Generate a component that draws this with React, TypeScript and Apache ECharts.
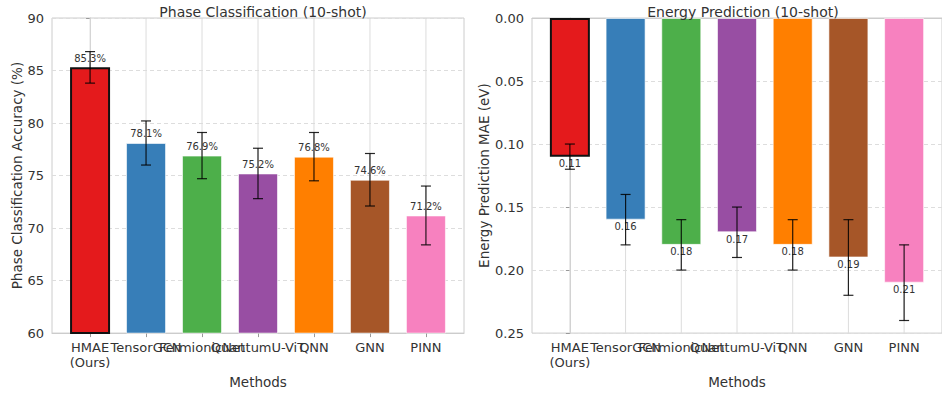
import React, { useEffect, useRef } from "react";
import * as echarts from "echarts";

const methods = ["HMAE\n(Ours)", "TensorGCN", "FermionicNet", "QuantumU-ViT", "QNN", "GNN", "PINN"];
const colors = ["#e41a1c", "#377eb8", "#4daf4a", "#984ea3", "#ff7f00", "#a65628", "#f781bf"];
const phaseAcc = [85.3, 78.1, 76.9, 75.2, 76.8, 74.6, 71.2];
const phaseErr = [1.5, 2.1, 2.2, 2.4, 2.3, 2.5, 2.8];
const energyMae = [0.11, 0.16, 0.18, 0.17, 0.18, 0.19, 0.21];
const energyErr = [0.01, 0.02, 0.02, 0.02, 0.02, 0.03, 0.03];
const phaseTicks = [60, 65, 70, 75, 80, 85, 90];
const energyTicks = [0, 0.05, 0.1, 0.15, 0.2, 0.25];

const TXT = "#333";
const FONT = "DejaVu Sans";
const idx = methods.map((_, i) => i);

function barSeries(values: number[], axisIndex: number, labelFmt: (v: number) => string, pos: string, dist: number) {
  return {
    type: "bar",
    xAxisIndex: axisIndex,
    yAxisIndex: axisIndex,
    barWidth: 40,
    z: 3,
    data: values.map((v, i) => ({
      value: [i, v],
      itemStyle: {
        color: colors[i],
        borderColor: i === 0 ? "#111" : "rgba(255,255,255,0.6)",
        borderWidth: i === 0 ? 2 : 1,
      },
    })),
    label: {
      show: true,
      position: pos,
      distance: dist,
      fontSize: 10,
      fontFamily: FONT,
      color: TXT,
      formatter: (p: any) => labelFmt(p.value[1]),
    },
  };
}

function errSeries(values: number[], errs: number[], axisIndex: number) {
  return {
    type: "custom",
    xAxisIndex: axisIndex,
    yAxisIndex: axisIndex,
    z: 5,
    data: values.map((v, i) => [i, v, errs[i]]),
    renderItem: (params: any, api: any) => {
      const x = api.value(0);
      const v = api.value(1);
      const e = api.value(2);
      const p1 = api.coord([x, v - e]);
      const p2 = api.coord([x, v + e]);
      const st = { stroke: "rgba(0,0,0,0.85)", lineWidth: 1.2 };
      return {
        type: "group",
        children: [
          { type: "line", shape: { x1: p1[0], y1: p1[1], x2: p2[0], y2: p2[1] }, style: st },
          { type: "line", shape: { x1: p1[0] - 5, y1: p1[1], x2: p1[0] + 5, y2: p1[1] }, style: st },
          { type: "line", shape: { x1: p2[0] - 5, y1: p2[1], x2: p2[0] + 5, y2: p2[1] }, style: st },
        ],
      };
    },
  };
}

function vGridSeries(axisIndex: number, lo: number, hi: number) {
  return {
    type: "custom",
    xAxisIndex: axisIndex,
    yAxisIndex: axisIndex,
    z: 1,
    silent: true,
    data: idx.map((i) => [i]),
    renderItem: (params: any, api: any) => {
      const x = api.value(0);
      const a = api.coord([x, lo]);
      const b = api.coord([x, hi]);
      return {
        type: "line",
        shape: { x1: a[0], y1: a[1], x2: b[0], y2: b[1] },
        style: { stroke: "#dcdcdc", lineWidth: 1 },
      };
    },
  };
}

function xAxisDef(gridIndex: number, max: number) {
  return {
    type: "value",
    gridIndex,
    min: -0.68,
    max,
    name: "Methods",
    nameLocation: "middle",
    nameGap: 36,
    nameTextStyle: { fontSize: 13.5, color: TXT, fontFamily: FONT },
    axisLine: { show: true, lineStyle: { color: "#cccccc" } },
    axisTick: { show: true, customValues: idx, length: 4, lineStyle: { color: "#999" } },
    splitLine: { show: false },
    axisLabel: {
      customValues: idx,
      fontSize: 13,
      color: TXT,
      fontFamily: FONT,
      margin: 7,
      lineHeight: 15,
      formatter: (v: number) => methods[Math.round(v)] ?? "",
    },
  };
}

export default function App() {
  const ref = useRef<HTMLDivElement>(null);
  useEffect(() => {
    document.body.style.margin = "0";
    const chart = echarts.init(ref.current!, null, { renderer: "svg" });
    chart.setOption({
      animation: false,
      textStyle: { fontFamily: FONT },
      title: [
        {
          text: "Phase Classification (10-shot)",
          left: 258,
          top: 0,
          textAlign: "center",
          textStyle: { fontSize: 14, fontWeight: "normal", color: TXT, fontFamily: FONT },
        },
        {
          text: "Energy Prediction (10-shot)",
          left: 738,
          top: 0,
          textAlign: "center",
          textStyle: { fontSize: 14, fontWeight: "normal", color: TXT, fontFamily: FONT },
        },
      ],
      grid: [
        { left: 52, top: 18, width: 412, height: 316, show: true, borderColor: "#cccccc", borderWidth: 1, backgroundColor: "#fff" },
        { left: 532, top: 18, width: 412, height: 317, show: true, borderColor: "#cccccc", borderWidth: 1, backgroundColor: "#fff" },
      ],
      xAxis: [xAxisDef(0, 6.68), xAxisDef(1, 6.68)],
      yAxis: [
        {
          type: "value",
          gridIndex: 0,
          min: phaseTicks[0],
          max: phaseTicks[phaseTicks.length - 1],
          interval: 5,
          name: "Phase Classification Accuracy (%)",
          nameLocation: "middle",
          nameGap: 28,
          nameTextStyle: { fontSize: 13.5, color: TXT, fontFamily: FONT },
          axisLine: { show: true, lineStyle: { color: "#cccccc" } },
          axisTick: { show: true, length: 4, lineStyle: { color: "#999" } },
          splitLine: { show: true, lineStyle: { color: "#dddddd", type: [4, 3] } },
          axisLabel: { fontSize: 13, color: TXT, fontFamily: FONT, margin: 8 },
        },
        {
          type: "value",
          gridIndex: 1,
          inverse: true,
          min: energyTicks[0],
          max: energyTicks[energyTicks.length - 1],
          interval: 0.05,
          name: "Energy Prediction MAE (eV)",
          nameLocation: "middle",
          nameGap: 40,
          nameTextStyle: { fontSize: 13.5, color: TXT, fontFamily: FONT },
          axisLine: { show: true, lineStyle: { color: "#cccccc" } },
          axisTick: { show: true, length: 4, lineStyle: { color: "#999" } },
          splitLine: { show: true, lineStyle: { color: "#dddddd", type: [4, 3] } },
          axisLabel: {
            fontSize: 13,
            color: TXT,
            fontFamily: FONT,
            margin: 8,
            formatter: (v: number) => v.toFixed(2),
          },
        },
      ],
      series: [
        vGridSeries(0, phaseTicks[0], phaseTicks[phaseTicks.length - 1]),
        vGridSeries(1, energyTicks[0], energyTicks[energyTicks.length - 1]),
        barSeries(phaseAcc, 0, (v) => `${v.toFixed(1)}%`, "top", 4),
        barSeries(energyMae, 1, (v) => v.toFixed(2), "bottom", 2),
        errSeries(phaseAcc, phaseErr, 0),
        errSeries(energyMae, energyErr, 1),
      ],
    });
    return () => chart.dispose();
  }, []);
  return <div ref={ref} style={{ width: 942, height: 394 }} />;
}
